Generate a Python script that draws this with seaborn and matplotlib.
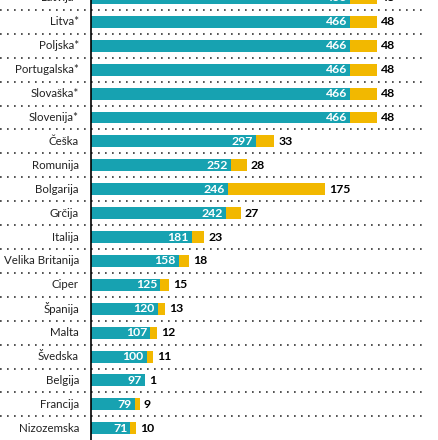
import matplotlib
matplotlib.use("Agg")
from matplotlib import pyplot as plt
import matplotlib.transforms as mtransforms
import pandas as pd
import seaborn as sns

countries = ["Latvija*", "Litva*", "Poljska*", "Portugalska*", "Slovaška*", "Slovenija*",
             "Češka", "Romunija", "Bolgarija", "Grčija", "Italija", "Velika Britanija",
             "Ciper", "Španija", "Malta", "Švedska", "Belgija", "Francija", "Nizozemska"]
base = [466, 466, 466, 466, 466, 466, 297, 252, 246, 242, 181, 158, 125, 120, 107, 100, 97, 79, 71]
extra = [48, 48, 48, 48, 48, 48, 33, 28, 175, 27, 23, 18, 15, 13, 12, 11, 1, 9, 10]

TEAL = "#17a2b1"
YELLOW = "#f2b800"

df = pd.DataFrame({"country": countries, "base": base, "extra": extra})
df["total"] = df["base"] + df["extra"]

sns.set_style("white")
plt.rcParams['font.family'] = ['Lato', 'DejaVu Sans']

fig = plt.figure(figsize=(4.39, 4.40), dpi=100)
W, H = 439, 440
ax = fig.add_axes([91 / W, 0, (424 - 91) / W, 1])

# total bar (yellow) underneath, base bar (teal) on top
sns.barplot(data=df, x="total", y="country", color=YELLOW, width=0.5, saturation=1,
            linewidth=0, ax=ax)
sns.barplot(data=df, x="base", y="country", color=TEAL, width=0.5, saturation=1,
            linewidth=0, ax=ax)

ax.set_xlim(0, (424 - 91) / 0.556)
ax.set_ylim(18.49, 0.084)
ax.set_xlabel("")
ax.set_ylabel("")
ax.set_xticks([])
ax.set_yticks([])
for s in ["top", "right", "bottom"]:
    ax.spines[s].set_visible(False)
ax.spines["left"].set_color("black")
ax.spines["left"].set_linewidth(1.2)

# row labels
tr = mtransforms.blended_transform_factory(fig.transFigure, ax.transData)
for i, name in enumerate(countries):
    ax.text(79 / W, i, name, transform=tr, ha="right", va="center",
            fontsize=8.3, color="#222222", clip_on=False)

# dotted separators across the full width
for i in range(len(countries) - 1):
    ax.plot([0, 424 / W], [i + 0.5, i + 0.5], transform=tr, color="#333333",
            lw=1.2, ls=(0, (1, 3.2)), clip_on=False, zorder=0)

# value labels
px = 0.556
for i, (b, e) in enumerate(zip(base, extra)):
    ax.text(b - 3 / px, i, str(b), ha="right", va="center", color="white",
            fontsize=8.8, fontweight="bold")
    ax.text(b + e + 4 / px, i, str(e), ha="left", va="center", color="black",
            fontsize=8.8, fontweight="bold")

fig.savefig("out.png", dpi=100)
